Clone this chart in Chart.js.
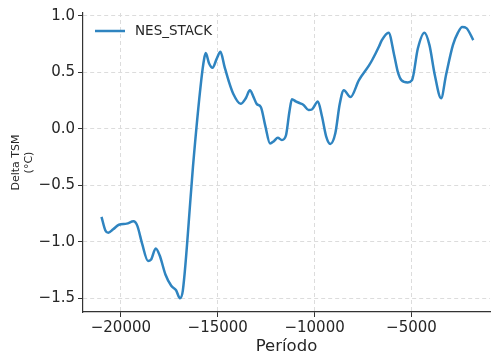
<!DOCTYPE html>
<html>
<head>
<meta charset="utf-8">
<script src="https://cdn.jsdelivr.net/npm/chart.js@4"></script>
<style>
  html, body { margin: 0; padding: 0; background: #fff; }
  canvas { display: block; }
</style>
</head>
<body>
<canvas id="chart" width="504" height="362"></canvas>
<script>
// Series
const seriesLabel = 'NES_STACK';
const periods = [
  -21000, -20800, -20650, -20400, -20100, -19700, -19350, -19150, -18900, -18600,
  -18450, -18200, -18000, -17700, -17400, -17150, -16950, -16800, -16370, -16280,
  -15850, -15700, -15620, -15450, -15270, -15050, -14860, -14650, -14430, -14200,
  -13820, -13550, -13340, -13150, -12990, -12770, -12550, -12300, -12100, -11900,
  -11690, -11480, -11300, -11170, -10950, -10740, -10570, -10310, -10140, -9830,
  -9620, -9400, -9190, -8930, -8700, -8490, -8150, -7710, -7190, -7020,
  -6670, -6540, -6180, -5890, -5700, -5520, -5190, -4970, -4670, -4330,
  -4070, -3800, -3470, -3210, -2860, -2600, -2380, -2160, -1810
];
const deltaTsm = [
  -0.78, -0.90, -0.92, -0.89, -0.85, -0.84, -0.82, -0.86, -1.02, -1.17,
  -1.16, -1.06, -1.12, -1.29, -1.39, -1.43, -1.50, -1.43, -0.54, -0.34,
  0.43, 0.62, 0.67, 0.58, 0.54, 0.62, 0.68, 0.55, 0.42, 0.31,
  0.22, 0.27, 0.34, 0.28, 0.22, 0.19, 0.03, -0.13, -0.11, -0.08,
  -0.10, -0.06, 0.15, 0.26, 0.24, 0.225, 0.21, 0.165, 0.17, 0.24,
  0.11, -0.07, -0.135, -0.04, 0.22, 0.34, 0.28, 0.43, 0.56, 0.61,
  0.73, 0.78, 0.85, 0.65, 0.50, 0.43, 0.41, 0.43, 0.71, 0.85,
  0.74, 0.48, 0.27, 0.48, 0.74, 0.85, 0.90, 0.89, 0.785
];
const xTickValues = [-20000, -15000, -10000, -5000];
const yTickValues = [-1.5, -1.0, -0.5, 0.0, 0.5, 1.0];

const LINE_COLOR = '#2f84c0';
const TEXT_COLOR = '#262626';
const GRID_COLOR = '#dcdcdc';

const minusSign = v => String(v).replace('-', '\u2212');

// matplotlib-style legend drawn inside the plot area
const insideLegend = {
  id: 'insideLegend',
  afterDraw(chart) {
    const { ctx, chartArea } = chart;
    ctx.save();
    chart.data.datasets.forEach((ds, i) => {
      const y = chartArea.top + 18 + i * 20;
      const x = chartArea.left + 12;
      ctx.strokeStyle = ds.borderColor;
      ctx.lineWidth = ds.borderWidth;
      ctx.beginPath();
      ctx.moveTo(x, y);
      ctx.lineTo(x + 30, y);
      ctx.stroke();
      ctx.fillStyle = TEXT_COLOR;
      ctx.font = '13.5px "DejaVu Sans"';
      ctx.textBaseline = 'middle';
      ctx.fillText(ds.label, x + 40, y);
    });
    ctx.restore();
  }
};

new Chart(document.getElementById('chart').getContext('2d'), {
  type: 'line',
  data: {
    datasets: [{
      label: seriesLabel,
      data: periods.map((p, i) => ({ x: p, y: deltaTsm[i] })),
      borderColor: LINE_COLOR,
      borderWidth: 2.5,
      pointRadius: 0,
      cubicInterpolationMode: 'monotone',
      fill: false,
    }],
  },
  options: {
    responsive: false,
    animation: false,
    devicePixelRatio: 1,
    layout: { padding: { left: 0, right: 14, top: 13, bottom: 0 } },
    plugins: {
      legend: { display: false },
      tooltip: { enabled: false },
    },
    scales: {
      x: {
        type: 'linear',
        min: -21955,
        max: -945,
        afterFit: s => { s.height = 50; },
        afterBuildTicks: s => { s.ticks = xTickValues.map(v => ({ value: v })); },
        ticks: {
          color: TEXT_COLOR,
          font: { family: 'DejaVu Sans', size: 15 },
          padding: 2,
          maxRotation: 0,
          autoSkip: false,
          callback: v => minusSign(v),
        },
        grid: {
          color: GRID_COLOR,
          lineWidth: 1,
          tickLength: 5,
          tickColor: '#333',
          tickWidth: 1,
          tickBorderDash: [],
        },
        border: { display: true, color: '#333', width: 1.2, dash: [4, 3] },
        title: {
          display: true,
          text: 'Período',
          color: TEXT_COLOR,
          font: { family: 'DejaVu Sans', size: 16.5 },
          padding: { top: 0, bottom: 5 },
        },
      },
      y: {
        min: -1.622,
        max: 1.024,
        afterFit: s => { s.width = 83; },
        afterBuildTicks: s => { s.ticks = yTickValues.map(v => ({ value: v })); },
        ticks: {
          color: TEXT_COLOR,
          font: { family: 'DejaVu Sans', size: 15 },
          padding: 3,
          autoSkip: false,
          callback: v => minusSign(Number(v).toFixed(1)),
        },
        grid: {
          color: GRID_COLOR,
          lineWidth: 1,
          tickLength: 5,
          tickColor: '#333',
          tickWidth: 1,
          tickBorderDash: [],
        },
        border: { display: true, color: '#333', width: 1.2, dash: [4, 3] },
        title: {
          display: true,
          text: ['Delta TSM', '(°C)'],
          color: TEXT_COLOR,
          font: { family: 'DejaVu Sans', size: 11, lineHeight: 1.15 },
          padding: { top: 10, bottom: 0 },
        },
      },
    },
  },
  plugins: [insideLegend],
});
</script>
</body>
</html>
